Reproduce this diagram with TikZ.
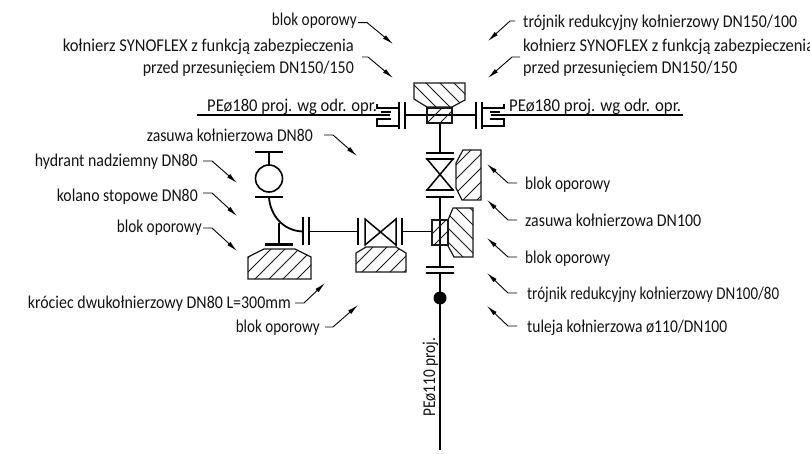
\documentclass[tikz,border=0pt]{standalone}
\usepackage{fontspec}
\usepackage{graphicx}
\setmainfont{Carlito}
\usetikzlibrary{arrows.meta}
\tikzset{
 lbl/.style={inner sep=0pt,font=\fontsize{18}{18}\selectfont,text=black!92},
 lblL/.style={lbl,anchor=base west},
 lblR/.style={lbl,anchor=base east},
 pipe/.style={line width=1.8pt,black},
 fl/.style={line width=2.1pt,black},
 body/.style={line width=1.5pt,black},
 hatchline/.style={line width=1pt,black!90},
 blockline/.style={line width=1.2pt,black!90},
 lead/.style={line width=0.9pt,black,-{Latex[length=11pt,width=4.5pt]}}
}
\newcommand{\fw}[2]{\sbox0{#2}\pgfmathsetmacro\sxf{#1/\wd0}\scalebox{\sxf}[1]{#2}}
\newcommand{\leadr}[4]{%
 \coordinate (#1s) at (#2); \coordinate (#1k) at (#3); \coordinate (#1t) at (#4);
 \draw[lead] (#1s) -- (#1k) -- (#1t);}
% / hatch: polygon, spacing, offset
\newcommand{\hatchF}[3]{%
 \begin{scope}\clip #1;
 \foreach \k in {0,...,110}{\pgfmathsetmacro\cc{#3+\k*#2}\draw[hatchline] (\cc,0) -- (\cc-454,454);}
 \end{scope}
 \draw[blockline] #1;}
% \ hatch
\newcommand{\hatchB}[3]{%
 \begin{scope}\clip #1;
 \foreach \k in {0,...,110}{\pgfmathsetmacro\cc{#3-500+\k*#2}\draw[hatchline] (\cc,0) -- (\cc+454,454);}
 \end{scope}
 \draw[blockline] #1;}
\begin{document}
\begin{tikzpicture}[x=1pt,y=-1pt]
\useasboundingbox (0,0) rectangle (810,454);
\clip (0,0) rectangle (810,454);
\fill[white] (0,0) rectangle (810,454);
% pipes
\draw[pipe] (197,115) -- (390,115);
\draw[pipe] (405,115) -- (476,115);
\draw[pipe] (491,115) -- (683,115);
\draw[pipe] (440,123) -- (440,153);
\draw[pipe] (440,197) -- (440,267);
\draw[pipe] (440,273) -- (440,450);
\draw[pipe] (309,231.5) -- (358,231.5);
\draw[pipe] (402,231.5) -- (432,231.5);
% SYNOFLEX left
\draw[fl] (399,102) -- (399,129);
\draw[fl] (405,102) -- (405,129);
\draw[body] (377,104) -- (377,108) -- (399,108);
\draw[body] (381,112) -- (391,112);
\draw[body] (391,119) -- (377,119) -- (377,126) -- (399,126);
% SYNOFLEX right
\draw[fl] (476,102) -- (476,129);
\draw[fl] (482,102) -- (482,129);
\draw[body] (504,104) -- (504,108) -- (482,108);
\draw[body] (500,112) -- (490,112);
\draw[body] (490,119) -- (504,119) -- (504,126) -- (482,126);
% tee top and block
\hatchB{(414,83) -- (465,83) -- (465,100) -- (452,107) -- (427,107) -- (414,99) -- cycle}{14}{3}
\hatchF{(427,108) rectangle (452,123)}{13}{4}
% valve DN100
\draw[fl] (426,153) -- (454,153);
\draw[body] (427,159) -- (453,159) -- (427,190) -- (453,190) -- cycle;
\draw[fl] (426,159) -- (454,159);
\draw[fl] (426,190) -- (454,190);
\draw[fl] (426,197) -- (454,197);
\hatchF{(481,150) -- (463,150) -- (456,163) -- (456,188) -- (462,200) -- (481,200) -- cycle}{14}{5}
% tee lower and block
\hatchF{(432,220) rectangle (448,245)}{13}{3}
\hatchB{(453,208) -- (473,208) -- (473,257) -- (454,257) -- (448,246) -- (448,220) -- cycle}{14}{6}
\draw[fl] (426,267) -- (454,267);
\draw[fl] (426,273) -- (454,273);
\fill[black] (440,298) circle (6.5);
% hydrant
\draw[fl] (255,152) -- (283,152);
\draw[pipe] (269,152) -- (269,165);
\node[circle,draw,line width=1.6pt,black,minimum size=27pt,inner sep=0pt] (hyd) at (269,178.5) {};
\draw[fl] (255,197) -- (283,197);
\draw[pipe] (269,197) .. controls (270,215) and (283,231) .. (303,231.5);
\draw[pipe] (279,223) -- (279,244.5);
\draw[fl] (265,244.5) -- (293,244.5);
\hatchF{(264,249) -- (295,249) -- (311,257) -- (311,279) -- (248,279) -- (248,257) -- cycle}{14}{2}
% flange DN80
\draw[fl] (303,217) -- (303,245);
\draw[fl] (309,217) -- (309,245);
% valve DN80
\draw[fl] (358,218) -- (358,245);
\draw[body] (365,219) -- (365,245) -- (396,219) -- (396,245) -- cycle;
\draw[fl] (402,218) -- (402,245);
\hatchF{(366,247) -- (396,247) -- (406,253) -- (406,272) -- (356,272) -- (356,253) -- cycle}{14}{4}
% leaders
\leadr{a}{358,22.6}{367,22.6}{393,44}
\leadr{b}{362,57}{368,57}{393,78}
\leadr{c}{324,135}{333,135}{357,156}
\leadr{d}{203,161}{212,161}{237,183}
\leadr{e}{203,193}{212,193}{237,216}
\leadr{f}{203,228}{212,228}{237,251}
\leadr{g}{295,303}{304,303}{325,283}
\leadr{h}{325,327}{333,327}{358,305}
\leadr{i}{515,21}{510,21}{488,41}
\leadr{j}{520,57}{512,57}{488,78}
\leadr{k}{517,183}{508,183}{487,164}
\leadr{l}{517,220}{508,220}{487,200}
\leadr{m}{517,257}{508,257}{487,238}
\leadr{n}{517,293}{508,293}{487,273}
\leadr{o}{517,326}{508,326}{487,306}
% labels
\node[lblR] (t1) at (357,26) {\fw{85}{blok oporowy}};
\node[lblR] (t2) at (354,52) {\fw{291}{kołnierz SYNOFLEX z funkcją zabezpieczenia}};
\node[lblR] (t3) at (354,74) {\fw{211}{przed przesunięciem DN150/150}};
\node[lblL] (t4) at (207,112) {\fw{170}{PEø180 proj. wg odr. opr.}};
\node[lblR] (t5) at (313,142) {\fw{166}{zasuwa kołnierzowa DN80}};
\node[lblR] (t6) at (198,167) {\fw{163}{hydrant nadziemny DN80}};
\node[lblR] (t7) at (198,202) {\fw{141}{kolano stopowe DN80}};
\node[lblR] (t8) at (202,233) {\fw{85}{blok oporowy}};
\node[lblR] (t9) at (291,308) {\fw{263}{króciec dwukołnierzowy DN80 L=300mm}};
\node[lblR] (t10) at (320,332) {\fw{84}{blok oporowy}};
\node[lblL] (t11) at (523,28) {\fw{274}{trójnik redukcyjny kołnierzowy DN150/100}};
\node[lblL] (t12) at (523,52) {\fw{291}{kołnierz SYNOFLEX z funkcją zabezpieczenia}};
\node[lblL] (t13) at (523,74) {\fw{214}{przed przesunięciem DN150/150}};
\node[lblL] (t14) at (509,112) {\fw{172}{PEø180 proj. wg odr. opr.}};
\node[lblL] (t15) at (525,190) {\fw{85}{blok oporowy}};
\node[lblL] (t16) at (525,226) {\fw{176}{zasuwa kołnierzowa DN100}};
\node[lblL] (t17) at (525,263) {\fw{85}{blok oporowy}};
\node[lblL] (t18) at (527,299) {\fw{252}{trójnik redukcyjny kołnierzowy DN100/80}};
\node[lblL] (t19) at (527,332) {\fw{200}{tuleja kołnierzowa ø110/DN100}};
\node[lbl,anchor=base west,rotate=90] (t20) at (435,417) {\fw{79}{PEø110 proj.}};
\end{tikzpicture}
\end{document}
